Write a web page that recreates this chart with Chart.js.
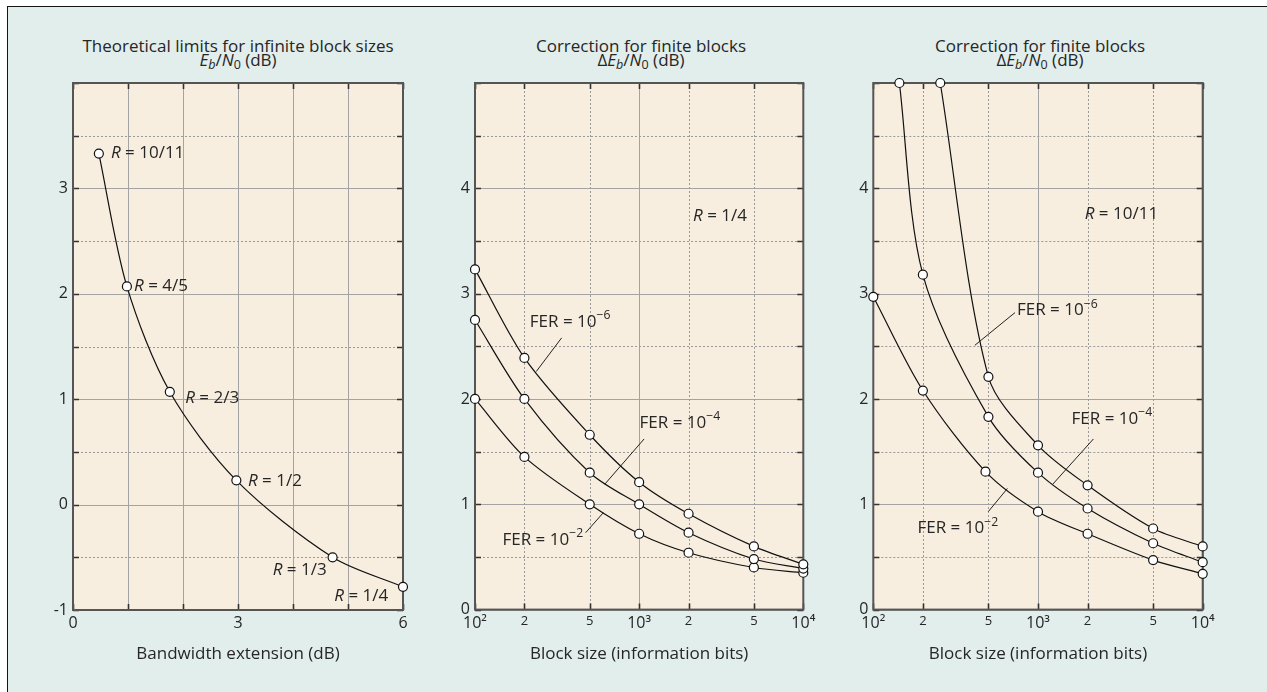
<!DOCTYPE html>
<html>
<head>
<meta charset="utf-8">
<script src="https://cdn.jsdelivr.net/npm/chart.js@4/dist/chart.umd.min.js"></script>
<style>
body { margin: 0; background: #fff; width: 1267px; height: 692px; overflow: hidden; font-family: "Open Sans", sans-serif; }
#frame { position: absolute; left: 7px; top: 6px; right: 0; bottom: 0; background: #e2eeeb; border-left: 1.5px solid #151515; border-top: 1.5px solid #151515; }
.panel { position: absolute; top: 0; height: 692px; }
.ttl { position: absolute; top: 39px; width: 420px; text-align: center; font-size: 17px; line-height: 14px; color: #262626; }
.sb { font-size: 12.5px; position: relative; top: 3px; }
</style>
</head>
<body>
<div id="frame"></div>
<div class="ttl" style="left:28px">Theoretical limits for infinite block sizes<br><i>E</i><i class="sb">b</i>/<i>N</i><span class="sb">0</span> (dB)</div>
<div class="ttl" style="left:431px">Correction for finite blocks<br>&Delta;<i>E</i><i class="sb">b</i>/<i>N</i><span class="sb">0</span> (dB)</div>
<div class="ttl" style="left:830px">Correction for finite blocks<br>&Delta;<i>E</i><i class="sb">b</i>/<i>N</i><span class="sb">0</span> (dB)</div>
<div class="panel" style="left:0px;width:430px"><canvas id="c1" width="430" height="692"></canvas></div>
<div class="panel" style="left:430px;width:420px"><canvas id="c2" width="420" height="692"></canvas></div>
<div class="panel" style="left:850px;width:417px"><canvas id="c3" width="417" height="692"></canvas></div>
<script>
// panel 1: theoretical limits, infinite blocks
const bwExt = [0.47, 0.98, 1.76, 2.97, 4.72, 6.0];
const ebn0Limit = [3.33, 2.07, 1.07, 0.23, -0.50, -0.78];
const rateLabels = ['10/11', '4/5', '2/3', '1/2', '1/3', '1/4'];

// panel 2: R = 1/4
const blockSizes = [100, 200, 500, 1000, 2000, 5000, 10000];
const r14Fer6 = [3.23, 2.39, 1.66, 1.21, 0.91, 0.60, 0.43];
const r14Fer4 = [2.75, 2.00, 1.30, 1.00, 0.73, 0.48, 0.39];
const r14Fer2 = [2.00, 1.45, 1.00, 0.72, 0.54, 0.40, 0.35];

// panel 3: R = 10/11
const r1011Fer6Sizes = [255, 500, 1000, 2000, 5000, 10000];
const r1011Fer6 = [5.0, 2.21, 1.56, 1.18, 0.77, 0.60];
const r1011Fer4Sizes = [144, 200, 500, 1000, 2000, 5000, 10000];
const r1011Fer4 = [5.0, 3.18, 1.83, 1.30, 0.96, 0.63, 0.45];
const r1011Fer2Sizes = [100, 200, 480, 1000, 2000, 5000, 10000];
const r1011Fer2 = [2.97, 2.08, 1.31, 0.93, 0.72, 0.47, 0.34];

// grid / tick values
const bwMajor = [0, 1, 2, 3, 4, 5, 6];
const blockMajor = [100, 1000, 10000];
const blockMinor = [200, 500, 2000, 5000];
const limitMajor = [-1, 0, 1, 2, 3, 4];
const limitMinor = [-0.5, 0.5, 1.5, 2.5, 3.5];
const corrMajor = [0, 1, 2, 3, 4, 5];
const corrMinor = [0.5, 1.5, 2.5, 3.5, 4.5];

const FONT = '"Open Sans", sans-serif';
const SUP = { 2: '\u00b2', 3: '\u00b3', 4: '\u2074' };

function pts(xs, ys) {
    return xs.map((x, i) => ({ x: x, y: ys[i] }));
}

function curve(data) {
    return {
        data: data,
        showLine: true,
        borderColor: '#111',
        borderWidth: 1.2,
        tension: 0.3,
        pointRadius: 4.5,
        pointBackgroundColor: '#fff',
        pointBorderColor: '#111',
        pointBorderWidth: 1.2,
        clip: false
    };
}

// plot background, grid lines, border and inward ticks
const paperGrid = {
    id: 'paperGrid',
    beforeDatasetsDraw(chart, args, o) {
        const { ctx, chartArea: a, scales: { x, y } } = chart;
        ctx.save();
        ctx.fillStyle = '#f7eedf';
        ctx.fillRect(a.left, a.top, a.right - a.left, a.bottom - a.top);

        function hline(v, dash) {
            const py = Math.round(y.getPixelForValue(v)) + 0.5;
            ctx.setLineDash(dash);
            ctx.beginPath(); ctx.moveTo(a.left, py); ctx.lineTo(a.right, py); ctx.stroke();
            return py;
        }
        function vline(v, dash) {
            const px = Math.round(x.getPixelForValue(v)) + 0.5;
            ctx.setLineDash(dash);
            ctx.beginPath(); ctx.moveTo(px, a.top); ctx.lineTo(px, a.bottom); ctx.stroke();
            return px;
        }

        ctx.lineWidth = 1;
        ctx.strokeStyle = '#a3a3a3';
        const ys = [], xs = [];
        o.yMajor.forEach(v => ys.push(hline(v, [])));
        o.xMajor.forEach(v => xs.push(vline(v, [])));
        ctx.strokeStyle = '#9a9a9a';
        o.yMinor.forEach(v => ys.push(hline(v, [2, 2])));
        o.xMinor.forEach(v => xs.push(vline(v, [2, 2])));

        ctx.setLineDash([]);
        ctx.strokeStyle = '#333';
        ctx.lineWidth = 1.6;
        ys.forEach(py => {
            ctx.beginPath();
            ctx.moveTo(a.left, py); ctx.lineTo(a.left + 6, py);
            ctx.moveTo(a.right, py); ctx.lineTo(a.right - 6, py);
            ctx.stroke();
        });
        xs.forEach(px => {
            ctx.beginPath();
            ctx.moveTo(px, a.top); ctx.lineTo(px, a.top + 6);
            ctx.moveTo(px, a.bottom); ctx.lineTo(px, a.bottom - 6);
            ctx.stroke();
        });

        ctx.strokeStyle = '#555';
        ctx.lineWidth = 2;
        ctx.strokeRect(a.left, a.top, a.right - a.left, a.bottom - a.top);
        ctx.restore();
    }
};

// text runs: {t, it, sup}
function drawRuns(ctx, runs, x, y, align, size) {
    const parts = runs.map(r => {
        const fs = r.sup ? size * 0.72 : size;
        const font = (r.it ? 'italic ' : '') + fs + 'px ' + FONT;
        ctx.font = font;
        return { r: r, font: font, w: ctx.measureText(r.t).width };
    });
    const total = parts.reduce((s, p) => s + p.w, 0);
    let cx = align === 'center' ? x - total / 2 : x;
    ctx.textBaseline = 'middle';
    ctx.textAlign = 'left';
    parts.forEach(p => {
        ctx.font = p.font;
        ctx.fillText(p.r.t, cx, p.r.sup ? y - size * 0.38 : y);
        cx += p.w;
    });
}

const notesPlugin = {
    id: 'notes',
    afterDatasetsDraw(chart, args, o) {
        const { ctx, scales: { x, y } } = chart;
        ctx.save();
        ctx.fillStyle = '#262626';
        ctx.strokeStyle = '#222';
        ctx.lineWidth = 1;
        (o.items || []).forEach(n => {
            if (n.line) {
                ctx.beginPath();
                ctx.moveTo(x.getPixelForValue(n.line[0]), y.getPixelForValue(n.line[1]));
                ctx.lineTo(x.getPixelForValue(n.line[2]), y.getPixelForValue(n.line[3]));
                ctx.stroke();
            }
            drawRuns(ctx, n.runs, x.getPixelForValue(n.x), y.getPixelForValue(n.y), n.align, 17);
        });
        ctx.restore();
    }
};

function rLabel(txt) {
    return [{ t: 'R', it: true }, { t: ' = ' + txt }];
}
function ferLabel(exp) {
    return [{ t: 'FER = 10' }, { t: '\u2212' + exp, sup: true }];
}

function yAxis(min, max) {
    return {
        type: 'linear', min: min, max: max,
        grid: { display: false, drawTicks: false }, border: { display: false },
        afterFit: s => { s.width = 20; },
        ticks: {
            stepSize: 1, padding: 5, color: '#262626',
            font: { size: 16, family: FONT },
            callback: v => (v === max ? '' : String(v))
        }
    };
}

function logX(title) {
    return {
        type: 'logarithmic', min: 100, max: 10000,
        grid: { display: false, drawTicks: false }, border: { display: false },
        afterFit: s => { s.height = 58.4; },
        afterBuildTicks: s => { s.ticks = blockSizes.map(v => ({ value: v })); },
        title: { display: true, text: title, color: '#262626', font: { size: 17, family: FONT }, padding: 4 },
        ticks: {
            autoSkip: false, maxRotation: 0, padding: 4, color: '#262626',
            font: c => {
                const v = c.tick ? c.tick.value : 100;
                const dec = Math.abs(Math.log10(v) - Math.round(Math.log10(v))) < 1e-9;
                return { size: dec ? 16 : 13, family: FONT };
            },
            callback: v => {
                const l = Math.log10(v);
                if (Math.abs(l - Math.round(l)) < 1e-9) return '10' + SUP[Math.round(l)];
                return String(Math.round(v / Math.pow(10, Math.floor(l))));
            }
        }
    };
}

function baseOptions(pad, scales, grid, notes) {
    return {
        responsive: false,
        animation: false,
        layout: { padding: pad },
        scales: scales,
        plugins: {
            legend: { display: false },
            tooltip: { enabled: false },
            paperGrid: grid,
            notes: { items: notes }
        }
    };
}

// ---- panel 1
const notes1 = [
    { x: 0.69, y: 3.33, align: 'left', runs: rLabel(rateLabels[0]) },
    { x: 1.11, y: 2.07, align: 'left', runs: rLabel(rateLabels[1]) },
    { x: 2.04, y: 1.01, align: 'left', runs: rLabel(rateLabels[2]) },
    { x: 3.18, y: 0.22, align: 'left', runs: rLabel(rateLabels[3]) },
    { x: 3.63, y: -0.62, align: 'left', runs: rLabel(rateLabels[4]) },
    { x: 4.75, y: -0.87, align: 'left', runs: rLabel(rateLabels[5]) }
];

new Chart(document.getElementById('c1'), {
    type: 'scatter',
    data: { datasets: [curve(pts(bwExt, ebn0Limit))] },
    options: baseOptions(
        { left: 53, right: 27, top: 83, bottom: 23.6 },
        {
            x: {
                type: 'linear', min: 0, max: 6,
                grid: { display: false, drawTicks: false }, border: { display: false },
                afterFit: s => { s.height = 58.4; },
                title: { display: true, text: 'Bandwidth extension (dB)', color: '#262626', font: { size: 17, family: FONT }, padding: 4 },
                ticks: { stepSize: 3, padding: 4, color: '#262626', font: { size: 16, family: FONT } }
            },
            y: yAxis(-1, 4)
        },
        { yMajor: limitMajor, yMinor: limitMinor, xMajor: bwMajor, xMinor: [] },
        notes1
    ),
    plugins: [paperGrid, notesPlugin]
});

// ---- panel 2
const notes2 = [
    { x: 3110, y: 3.74, align: 'center', runs: rLabel('1/4') },
    { x: 380, y: 2.73, align: 'center', runs: ferLabel('6'), line: [337, 2.58, 236, 2.26] },
    { x: 1770, y: 1.77, align: 'center', runs: ferLabel('4'), line: [1072, 1.62, 617, 1.19] },
    { x: 259, y: 0.66, align: 'center', runs: ferLabel('2'), line: [472, 0.73, 605, 0.92] }
];

new Chart(document.getElementById('c2'), {
    type: 'scatter',
    data: {
        datasets: [
            curve(pts(blockSizes, r14Fer6)),
            curve(pts(blockSizes, r14Fer4)),
            curve(pts(blockSizes, r14Fer2))
        ]
    },
    options: baseOptions(
        { left: 25, right: 46.7, top: 83, bottom: 24 },
        { x: logX('Block size (information bits)'), y: yAxis(0, 5) },
        { yMajor: corrMajor, yMinor: corrMinor, xMajor: blockMajor, xMinor: blockMinor },
        notes2
    ),
    plugins: [paperGrid, notesPlugin]
});

// ---- panel 3
const notes3 = [
    { x: 3210, y: 3.75, align: 'center', runs: rLabel('10/11') },
    { x: 1310, y: 2.84, align: 'center', runs: ferLabel('6'), line: [725, 2.82, 414, 2.51] },
    { x: 2810, y: 1.81, align: 'center', runs: ferLabel('4'), line: [2170, 1.62, 1228, 1.19] },
    { x: 326, y: 0.77, align: 'center', runs: ferLabel('2'), line: [499, 0.93, 652, 1.15] }
];

new Chart(document.getElementById('c3'), {
    type: 'scatter',
    data: {
        datasets: [
            curve(pts(r1011Fer6Sizes, r1011Fer6)),
            curve(pts(r1011Fer4Sizes, r1011Fer4)),
            curve(pts(r1011Fer2Sizes, r1011Fer2))
        ]
    },
    options: baseOptions(
        { left: 3.3, right: 64.3, top: 83, bottom: 24 },
        { x: logX('Block size (information bits)'), y: yAxis(0, 5) },
        { yMajor: corrMajor, yMinor: corrMinor, xMajor: blockMajor, xMinor: blockMinor },
        notes3
    ),
    plugins: [paperGrid, notesPlugin]
});
</script>
</body>
</html>
